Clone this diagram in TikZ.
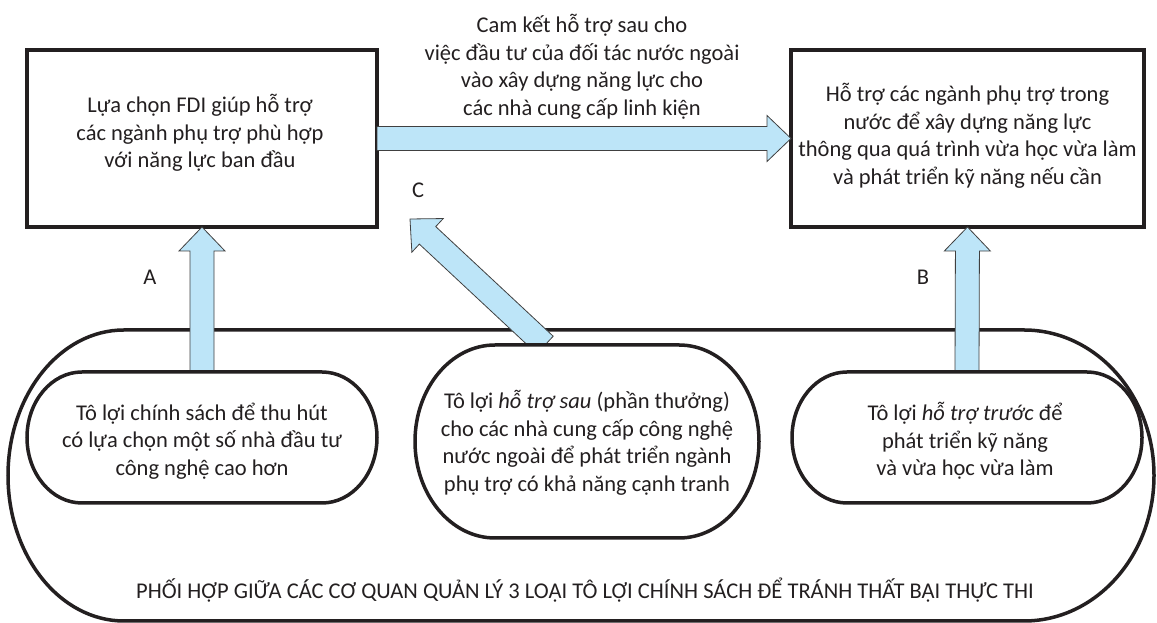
\documentclass[tikz,border=0pt]{standalone}
\usepackage{fontspec}
\setmainfont{Carlito}
\usetikzlibrary{calc}
\definecolor{arrowblue}{RGB}{189,229,248}
\definecolor{ink}{RGB}{35,31,32}
\tikzset{
  txt/.style={align=center, text=ink, inner sep=0pt, font=\fontsize{22.5}{27.5}\selectfont},
  boxnode/.style={draw=ink, line width=4.5pt, outer sep=0pt, inner sep=0pt},
  pillnode/.style={outer sep=0pt, inner sep=0pt},
  pillline/.style={draw=ink, line width=3.5pt, fill=white},
  outerline/.style={draw=ink, line width=3.5pt},
  fatarrow/.style={fill=arrowblue, draw=black!75, line width=0.8pt, line join=miter},
}
\newcommand\fatarrow[2]{%
  \coordinate (fab) at ($(#2)!24pt!(#1)$);
  \filldraw[fatarrow] ($(#1)!12pt!90:(#2)$) -- ($(fab)!12pt!-90:(#1)$) -- ($(fab)!23pt!-90:(#1)$) -- (#2)
    -- ($(fab)!23pt!90:(#1)$) -- ($(fab)!12pt!90:(#1)$) -- ($(#1)!12pt!-90:(#2)$) -- cycle;
}
% name, left rx, right rx, ry, style
\newcommand\pillshape[5]{%
  \path[#5] ([xshift=#2]#1.north west) -- ([xshift=-#3]#1.north east)
    arc[start angle=90, end angle=-90, x radius=#3, y radius=#4]
    -- ([xshift=#2]#1.south west)
    arc[start angle=270, end angle=90, x radius=#2, y radius=#4] -- cycle;
}
\begin{document}
\begin{tikzpicture}[x=1pt,y=1pt]
\useasboundingbox (0,0) rectangle (1157,623);

% top boxes
\node[boxnode, minimum width=350, minimum height=177] (boxL) at (202,484.5) {};
\node[boxnode, minimum width=353, minimum height=177] (boxR) at (967.5,484.5) {};
\node[txt] (tL) at (200,490) {Lựa chọn FDI giúp hỗ trợ\\các ngành phụ trợ phù hợp\\với năng lực ban đầu};
\node[txt] (tR) at (967.5,487) {Hỗ trợ các ngành phụ trợ trong\\nước để xây dựng năng lực\\thông qua quá trình vừa học vừa làm\\và phát triển kỹ năng nếu cần};
\node[txt] (tTop) at (582,556) {Cam kết hỗ trợ sau cho\\việc đầu tư của đối tác nước ngoài\\vào xây dựng năng lực cho\\các nhà cung cấp linh kiện};

% outer pill
\node[pillnode, minimum width=1146, minimum height=291] (outer) at (581,147.5) {};
\pillshape{outer}{116}{130}{145.5}{outerline}
\node[txt] (tBottom) at (585,33) {PHỐI HỢP GIỮA CÁC CƠ QUAN QUẢN LÝ 3 LOẠI TÔ LỢI CHÍNH SÁCH ĐỂ TRÁNH THẤT BẠI THỰC THI};

% inner pills (anchors)
\node[pillnode, minimum width=350, minimum height=131] (pillL) at (202,185.5) {};
\node[pillnode, minimum width=344, minimum height=193] (pillM) at (587,181.5) {};
\node[pillnode, minimum width=350, minimum height=131] (pillR) at (967,185.5) {};

% connectors
\coordinate (cStart) at (545,278);
\coordinate (cTip) at (410,404);
\fatarrow{boxL.east}{boxR.west}
\fatarrow{pillL.north}{boxL.south}
\fatarrow{pillR.north}{boxR.south}
\fatarrow{cStart}{cTip}

% pill outlines
\pillshape{pillL}{55}{55}{65.5}{pillline}
\pillshape{pillM}{80}{80}{96.5}{pillline}
\pillshape{pillR}{55}{55}{65.5}{pillline}

\node[txt] (tPL) at (202,182) {Tô lợi chính sách để thu hút\\có lựa chọn một số nhà đầu tư\\công nghệ cao hơn};
\node[txt] (tPM) at (587,180) {Tô lợi \textit{hỗ trợ sau} (phần thưởng)\\cho các nhà cung cấp công nghệ\\nước ngoài để phát triển ngành\\phụ trợ có khả năng cạnh tranh};
\node[txt] (tPR) at (965,182) {Tô lợi \textit{hỗ trợ trước} để\\phát triển kỹ năng\\và vừa học vừa làm};

% labels
\node[txt] (lA) at (150,346) {A};
\node[txt] (lB) at (923,346) {B};
\node[txt] (lC) at (418,433) {C};
\end{tikzpicture}
\end{document}
